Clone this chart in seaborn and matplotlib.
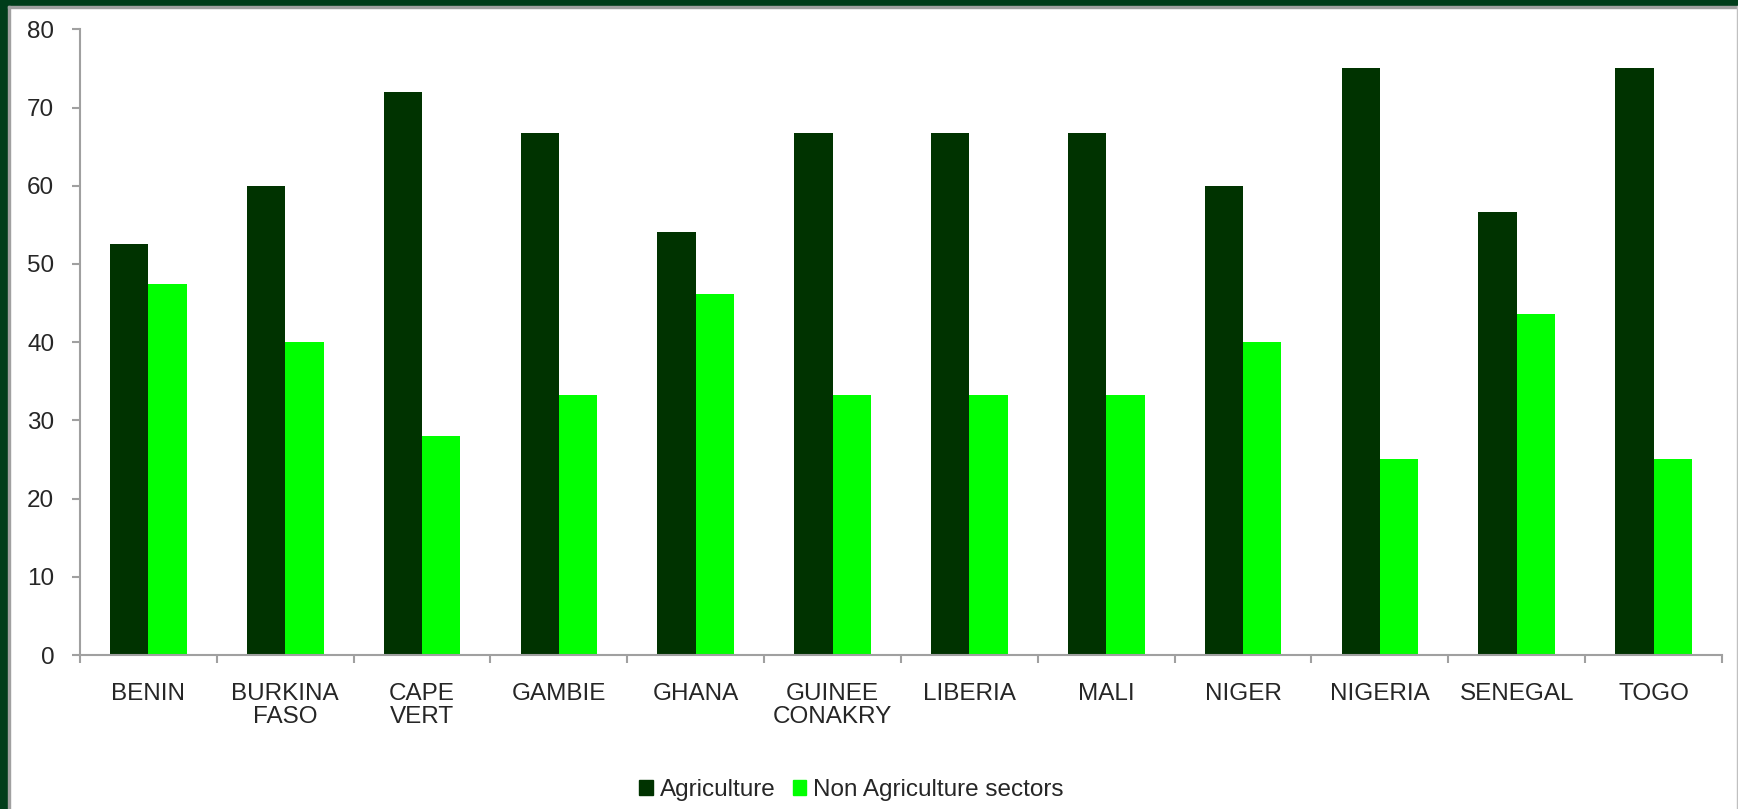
import pandas as pd
import matplotlib.pyplot as plt
import seaborn as sns
from matplotlib.patches import Rectangle

# donnees
pays = ["BENIN", "BURKINA\nFASO", "CAPE\nVERT", "GAMBIE", "GHANA", "GUINEE\nCONAKRY",
        "LIBERIA", "MALI", "NIGER", "NIGERIA", "SENEGAL", "TOGO"]
agriculture = [52.6, 60.0, 72.0, 66.7, 54.1, 66.7, 66.7, 66.7, 60.0, 75.0, 56.6, 75.0]
non_agriculture = [47.5, 40.0, 28.0, 33.3, 46.1, 33.3, 33.3, 33.3, 40.0, 25.0, 43.6, 25.0]
series = ["Agriculture", "Non Agriculture sectors"]
couleurs = ["#003300", "#00ff00"]

df = pd.DataFrame({
    "pays": pays * 2,
    "valeur": agriculture + non_agriculture,
    "secteur": [series[0]] * len(pays) + [series[1]] * len(pays),
})

sns.set_theme(style="white")
plt.rcParams["font.family"] = ["Liberation Sans", "DejaVu Sans"]

fig = plt.figure(figsize=(17.38, 8.09), dpi=100)
ax = fig.add_axes([0.046, 0.1903, 0.9448, 0.7735])

sns.barplot(data=df, x="pays", y="valeur", hue="secteur", palette=couleurs,
            width=0.56, gap=0, saturation=1, ax=ax, legend=True,
            edgecolor="none", linewidth=0)

ax.set_xlim(-0.5, len(pays) - 0.5)
ax.set_ylim(0, 80)
ax.set_yticks(range(0, 81, 10))
ax.set_xlabel("")
ax.set_ylabel("")

# graduations aux limites des categories, libelles au centre
ax.set_xticks([i - 0.5 for i in range(len(pays) + 1)])
ax.set_xticklabels([])
ax.set_xticks(range(len(pays)), minor=True)
ax.set_xticklabels(pays, minor=True, fontsize=17.5, linespacing=1.05)
ax.tick_params(axis="x", which="major", length=5.5, width=1.5, color="#a0a0a0",
               direction="out", bottom=True)
ax.tick_params(axis="x", which="minor", length=0, pad=20)
ax.tick_params(axis="y", length=5.5, width=1.5, color="#a0a0a0", left=True,
               labelsize=17.5, pad=13)

for s in ["top", "right"]:
    ax.spines[s].set_visible(False)
for s in ["left", "bottom"]:
    ax.spines[s].set_color("#a0a0a0")
    ax.spines[s].set_linewidth(1.5)

ax.legend_.remove()
handles = [Rectangle((0, 0), 1, 1, color=c) for c in couleurs]
fig.legend(handles, series, loc="center", bbox_to_anchor=(0.490, 0.0235),
           ncol=2, frameon=False, fontsize=17.5, handlelength=0.55,
           handleheight=0.55, handletextpad=0.3, columnspacing=0.7)

# cadre vert fonce
w, h = 1738, 809
fig.patches.append(Rectangle((0, 0), 8 / w, 1, transform=fig.transFigure,
                             color="#003d1a", zorder=0))
fig.patches.append(Rectangle((0, 1 - 6 / h), 1, 6 / h, transform=fig.transFigure,
                             color="#003d1a", zorder=0))
fig.patches.append(Rectangle((8 / w, 0), 1.5 / w, 1 - 6 / h, transform=fig.transFigure,
                             color="#a0a0a0", zorder=0))
fig.patches.append(Rectangle((8 / w, 1 - 7.5 / h), 1, 1.5 / h, transform=fig.transFigure,
                             color="#a0a0a0", zorder=0))
fig.patches.append(Rectangle((1 - 1.5 / w, 0), 1.5 / w, 1 - 6 / h, transform=fig.transFigure,
                             color="#c0c0c0", zorder=0))

fig.savefig("out.png", dpi=100)
